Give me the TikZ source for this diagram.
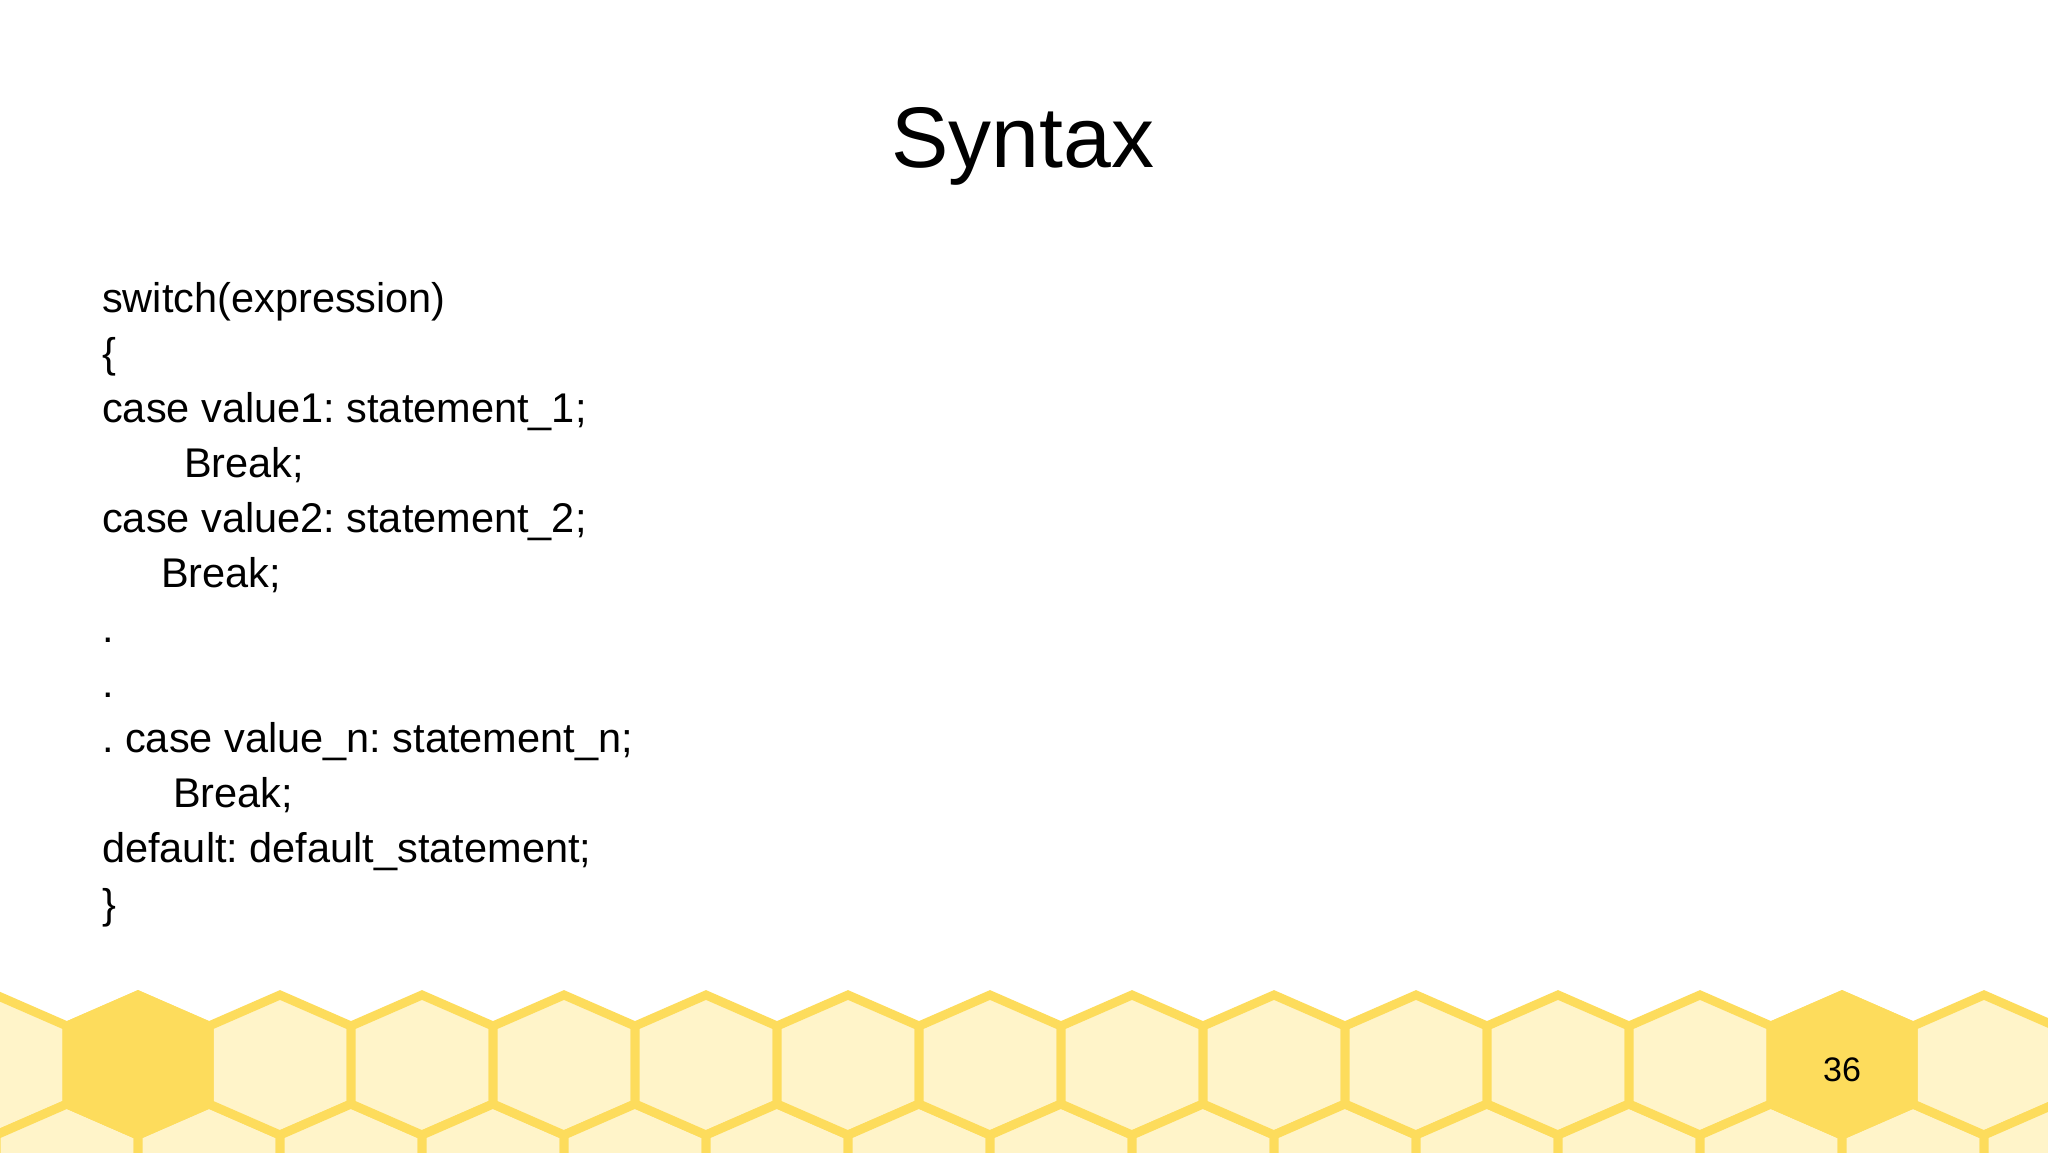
\documentclass[tikz,border=0pt]{standalone}
\usepackage{fontspec}
\setmainfont{Liberation Sans}
\frenchspacing
\definecolor{hexline}{HTML}{FDDC5C}
\definecolor{hexfill}{HTML}{FFF4C9}
\tikzset{
  hexcell/.style={draw=hexline,fill=hexfill,line width=9pt,line join=miter},
  hexdark/.style={draw=hexline,fill=hexline,line width=9pt,line join=miter},
  codeline/.style={anchor=base west,inner sep=0pt,font=\fontsize{41.5}{48}\selectfont},
}
\newcommand{\hexat}[3]{\path[#1] (#2,#3) ++(0,70) -- ++(71,-31) -- ++(0,-78) -- ++(-71,-31) -- ++(-71,31) -- ++(0,78) -- cycle;}
\begin{document}
\begin{tikzpicture}[x=1pt,y=1pt]
\useasboundingbox (0,0) rectangle (2048,1152);
\fill[white] (0,0) rectangle (2048,1152);
\begin{scope}
\clip (0,0) rectangle (2048,1152);
\foreach \k in {-1,...,15}{
  \pgfmathsetmacro{\cx}{138+142*\k}
  \hexat{hexcell}{\cx}{87}
  \pgfmathsetmacro{\dx}{138+71+142*\k}
  \hexat{hexcell}{\dx}{-22}
}
\hexat{hexdark}{138}{87}
\hexat{hexdark}{1842}{87}
\end{scope}
\node[font=\fontsize{86}{96}\selectfont] (title) at (1023,1006) {Syntax};
\node[font=\fontsize{34}{40}\selectfont] (page) at (1842,82) {36};
\node[codeline] (l1) at (102,839) {switch(expression)};
\node[codeline] (l2) at (102,784) {\{};
\node[codeline] (l3) at (102,729) {case value1: statement\_1;};
\node[codeline] (l4) at (184,674) {Break;};
\node[codeline] (l5) at (102,619) {case value2: statement\_2;};
\node[codeline] (l6) at (161,564) {Break;};
\node[codeline] (l7) at (102,509) {.};
\node[codeline] (l8) at (102,454) {.};
\node[codeline] (l9) at (102,399) {. case value\_n: statement\_n;};
\node[codeline] (l10) at (173,344) {Break;};
\node[codeline] (l11) at (102,289) {default: default\_statement;};
\node[codeline] (l12) at (102,234) {\}};
\end{tikzpicture}
\end{document}
